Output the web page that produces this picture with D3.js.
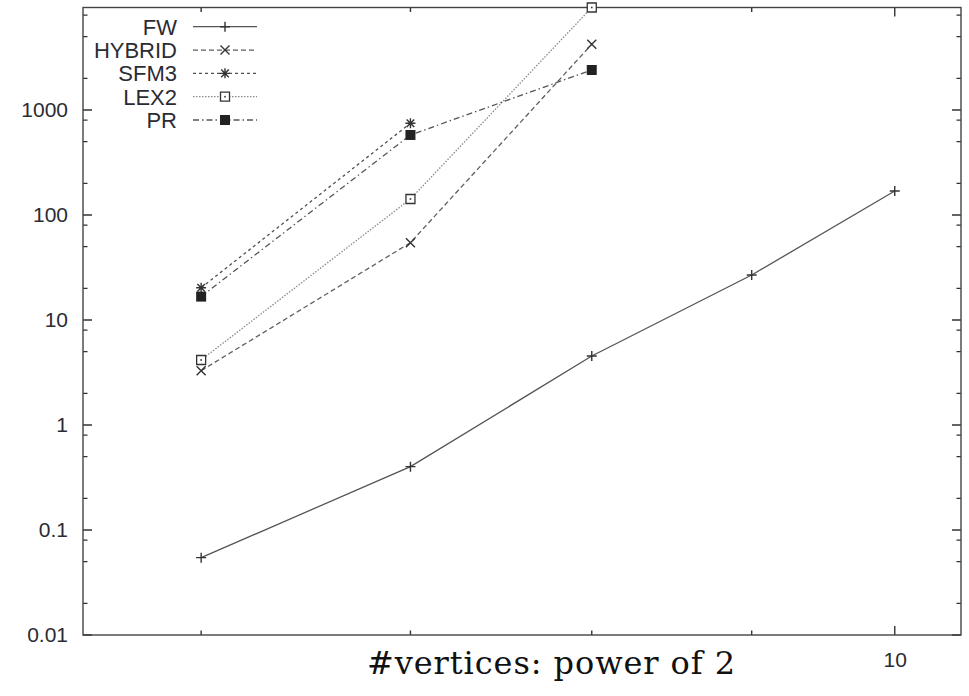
<!DOCTYPE html>
<html>
<head>
<meta charset="utf-8">
<title>log-log timing chart</title>
<script src="https://cdn.jsdelivr.net/npm/d3@7"></script>
<style>
	body, html{
		margin: 0;
		padding: 0;
		background: #fff;
		overflow: hidden;
	}
	svg{
		display: block;
	}
	.axis text{
		font-family: "Liberation Sans", Arial, sans-serif;
		font-size: 21px;
		fill: #2b2b33;
	}
	.axis path, .axis line{
		display: none;
	}
	.tick-mark{
		stroke: #333;
		stroke-width: 1.4px;
	}
	.legend text{
		font-family: "Liberation Sans", Arial, sans-serif;
		font-size: 22px;
		fill: #2b2b33;
	}
	.title{
		font-family: "DejaVu Serif", "Liberation Serif", serif;
		font-size: 32px;
		fill: #111;
	}
</style>
</head>
<body>
<script>
	// x values: number of vertices, as power of 2
	var xs = [6, 7, 8, 9, 10];

	// running times per algorithm
	var fw     = [0.0545, 0.401, 4.54, 26.8, 169];
	var hybrid = [3.29, 54.5, 4225];
	var sfm3   = [20.3, 747];
	var lex2   = [4.16, 142, 9460];
	var pr     = [16.7, 578, 2404];

	var names = ['FW', 'HYBRID', 'SFM3', 'LEX2', 'PR'];
	var xDomain = [5.5, 10.5];
	var yMin = 0.01;
	var yMajor = [0.01, 0.1, 1, 10, 100, 1000];
	var yMinor = [0.02, 0.05, 0.08, 0.2, 0.5, 0.8, 2, 5, 8, 20, 50, 80, 200, 500, 800, 2000, 5000, 8000];
	var xMajor = [10];
	var xMinor = [6, 7, 8, 9];
	var yLabels = ['0.01', '0.1', '1', '10', '100', '1000'];
	var xTitle = '#vertices: power of 2';

	var W = 969, H = 696,
		pLeft = 83, pRight = 961, pTop = 7.5, pBottom = 635;

	var series = [
		{name: names[0], vals: fw,     dash: null,            color: '#555', mark: 'plus'},
		{name: names[1], vals: hybrid, dash: '5,3',           color: '#606060', mark: 'cross'},
		{name: names[2], vals: sfm3,   dash: '3,3',           color: '#505050', mark: 'star'},
		{name: names[3], vals: lex2,   dash: '1.5,1.5',       color: '#8a8a8a', mark: 'box'},
		{name: names[4], vals: pr,     dash: '6,3,1.5,3',     color: '#555', mark: 'fbox'}
	];

	var svg = d3.select('body').append('svg').attr('width', W).attr('height', H);

	var x = d3.scaleLog().domain(xDomain).range([pLeft, pRight]);
	var y = d3.scaleLog().domain([yMin, d3.max(lex2)]).range([pBottom, pTop]);

	// axis labels (tick lines drawn separately below)
	var g = svg.append('g').attr('class', 'axis');
	g.append('g').attr('transform', 'translate(' + pLeft + ',0)')
		.call(d3.axisLeft(y).tickValues(yMajor).tickSize(0).tickPadding(15)
			.tickFormat(function(d, i){ return yLabels[i]; }));
	g.append('g').attr('transform', 'translate(0,' + pBottom + ')')
		.call(d3.axisBottom(x).tickValues(xMajor).tickSize(0).tickPadding(17).tickFormat(d3.format('d')));

	// inward tick marks on all four sides
	var ticks = svg.append('g');
	function yTicks(vals, len){
		ticks.selectAll(null).data(vals).enter().append('path')
			.attr('class', 'tick-mark')
			.attr('d', function(d){
				var yy = y(d);
				return 'M' + pLeft + ',' + yy + 'h' + len + 'M' + pRight + ',' + yy + 'h' + (-len);
			});
	}
	function xTicks(vals, len){
		ticks.selectAll(null).data(vals).enter().append('path')
			.attr('class', 'tick-mark')
			.attr('d', function(d){
				var xx = x(d);
				return 'M' + xx + ',' + pBottom + 'v' + (-len) + 'M' + xx + ',' + pTop + 'v' + len;
			});
	}
	yTicks(yMajor, 9);
	yTicks(yMinor, 4.5);
	xTicks(xMajor, 9);
	xTicks(xMinor, 4.5);

	svg.append('rect')
		.attr('x', pLeft).attr('y', pTop)
		.attr('width', pRight - pLeft).attr('height', pBottom - pTop)
		.attr('fill', 'none').attr('stroke', '#444').attr('stroke-width', 1.4);

	function markPath(type){
		var s = 5;
		if (type == 'plus') return 'M' + (-s) + ',0H' + s + 'M0,' + (-s) + 'V' + s;
		if (type == 'cross') return 'M-4.5,-4.5L4.5,4.5M-4.5,4.5L4.5,-4.5';
		if (type == 'star') return 'M-5,0H5M0,-5V5M-3.8,-3.8L3.8,3.8M-3.8,3.8L3.8,-3.8';
		if (type == 'box') return 'M-4.5,-4.5H4.5V4.5H-4.5Z';
		return 'M-5,-5H5V5H-5Z';
	}

	function drawMark(sel, s, px, py){
		var m = sel.append('g').attr('transform', 'translate(' + px + ',' + py + ')');
		if (s.mark == 'fbox') {
			m.append('path').attr('d', markPath(s.mark)).attr('fill', '#222');
		} else if (s.mark == 'box') {
			m.append('path').attr('d', markPath(s.mark)).attr('fill', '#fff')
				.attr('stroke', '#333').attr('stroke-width', 1.3);
			m.append('rect').attr('x', -0.8).attr('y', -0.8).attr('width', 1.6).attr('height', 1.6).attr('fill', '#333');
		} else {
			m.append('path').attr('d', markPath(s.mark)).attr('fill', 'none')
				.attr('stroke', '#333').attr('stroke-width', 1.4);
		}
	}

	var line = d3.line()
		.x(function(d, i){ return x(xs[i]); })
		.y(function(d){ return y(d); });

	var plot = svg.append('g');
	series.forEach(function(s){
		plot.append('path')
			.attr('d', line(s.vals))
			.attr('fill', 'none')
			.attr('stroke', s.color)
			.attr('stroke-width', 1.3)
			.attr('stroke-dasharray', s.dash);
	});
	series.forEach(function(s){
		s.vals.forEach(function(v, i){
			drawMark(plot, s, x(xs[i]), y(v));
		});
	});

	// legend, top left
	var legend = svg.append('g').attr('class', 'legend');
	var rowY = d3.scalePoint().domain(names).range([26.7, 120]);
	series.forEach(function(s){
		var ry = rowY(s.name);
		legend.append('text')
			.attr('x', 177).attr('y', ry).attr('dy', '0.36em')
			.attr('text-anchor', 'end').text(s.name);
		legend.append('line')
			.attr('x1', 193).attr('x2', 257).attr('y1', ry).attr('y2', ry)
			.attr('stroke', s.color).attr('stroke-width', 1.3)
			.attr('stroke-dasharray', s.dash);
		drawMark(legend, s, 225, ry);
	});

	svg.append('text')
		.attr('class', 'title')
		.attr('x', 551).attr('y', 674)
		.attr('text-anchor', 'middle')
		.attr('textLength', 368).attr('lengthAdjust', 'spacing')
		.text(xTitle);
</script>
</body>
</html>
